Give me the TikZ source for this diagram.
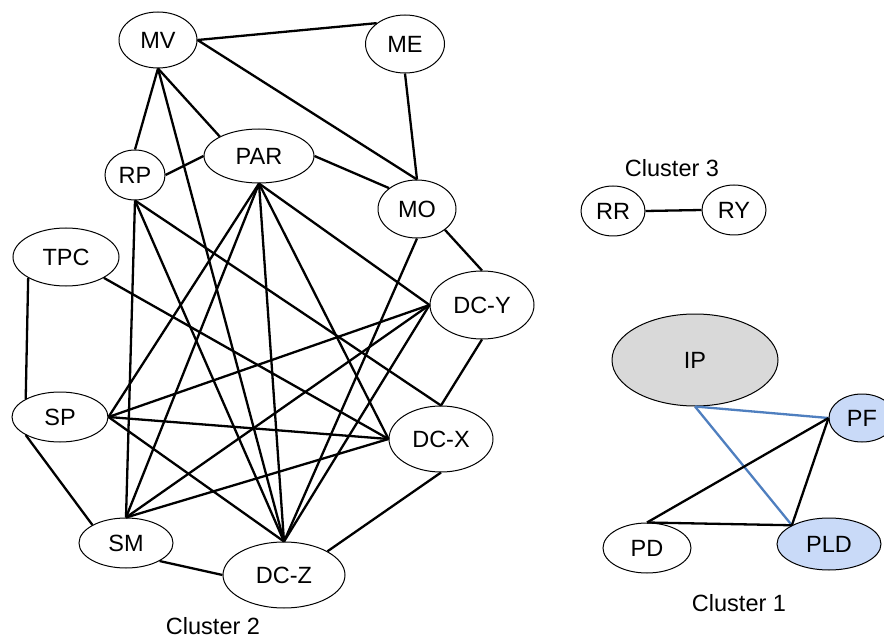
\documentclass[tikz,border=0pt]{standalone}
\usepackage{fontspec}
\setmainfont{Liberation Sans}
\usetikzlibrary{shapes.geometric}

\definecolor{nodefillblue}{HTML}{C9DAF8}
\definecolor{nodefillgray}{HTML}{D9D9D9}
\definecolor{linkblue}{HTML}{4F7FBF}

\tikzset{
  topic/.style 2 args={ellipse, draw=black, line width=1pt, fill=white,
    inner sep=0pt, minimum width=#1, minimum height=#2,
    font=\fontsize{23.5}{27}\selectfont},
  clusterlabel/.style={font=\fontsize{23.5}{27}\selectfont, inner sep=0pt},
  link/.style={line width=2.3pt, black},
  bluelink/.style={line width=2.3pt, linkblue},
}

\begin{document}
\begin{tikzpicture}[x=1pt, y=-1pt]
\useasboundingbox (0,0) rectangle (884,639);
\fill[white] (0,0) rectangle (884,639);

% Cluster 2
\node[topic={78pt}{56pt}]  (MV)  at (158,40)  {MV};
\node[topic={79pt}{58pt}]  (ME)  at (405,44)  {ME};
\node[topic={60pt}{50pt}]  (RP)  at (135,175) {RP};
\node[topic={110pt}{54pt}] (PAR) at (259,156) {PAR};
\node[topic={78pt}{58pt}]  (MO)  at (417,209) {MO};
\node[topic={106pt}{58pt}] (TPC) at (66,257)  {TPC};
\node[topic={96pt}{50pt}]  (SP)  at (60,417)  {SP};
\node[topic={94pt}{50pt}]  (SM)  at (126,543) {SM};
\node[topic={122pt}{66pt}] (DCZ) at (284,575) {DC-Z};
\node[topic={104pt}{68pt}] (DCY) at (482,305) {DC-Y};
\node[topic={104pt}{66pt}] (DCX) at (441,439) {DC-X};
\node[clusterlabel] (C2) at (213,626) {Cluster 2};

% Cluster 3
\node[topic={64pt}{50pt}] (RR) at (613,211) {RR};
\node[topic={64pt}{50pt}] (RY) at (734,210) {RY};
\node[clusterlabel] (C3) at (672,168) {Cluster 3};

% Cluster 1
\node[topic={166pt}{92pt}, fill=nodefillgray] (IP)  at (695,360) {IP};
\node[topic={66pt}{48pt},  fill=nodefillblue] (PF)  at (862,418) {PF};
\node[topic={104pt}{52pt}, fill=nodefillblue] (PLD) at (829,544) {PLD};
\node[topic={88pt}{50pt}] (PD) at (647,548) {PD};
\node[clusterlabel] (C1) at (739,603) {Cluster 1};

% Links of cluster 2
\draw[link] (MV.east) -- (ME.north west);
\draw[link] (MV.east) -- (MO.north);
\draw[link] (ME.south) -- (MO.north);
\draw[link] (MV.south) -- (RP.north);
\draw[link] (MV.south) -- (PAR.north west);
\draw[link] (MV.south) -- (DCZ.north);
\draw[link] (RP.east) -- (PAR.west);
\draw[link] (PAR.east) -- (MO.north west);
\draw[link] (MO.south east) -- (DCY.north);
\draw[link] (MO.south) -- (DCZ.north);
\draw[link] (DCY.south) -- (DCX.north);
\draw[link] (DCX.south) -- (DCZ.north east);
\draw[link] (SM.south east) -- (DCZ.west);
\draw[link] (SP.south west) -- (SM.north west);
\draw[link] (TPC.south west) -- (SP.north west);
\draw[link] (TPC.south east) -- (DCX.west);
\draw[link] (RP.south) -- (SM.north);
\draw[link] (RP.south) -- (DCZ.north);
\draw[link] (RP.south) -- (DCX.north);
\draw[link] (PAR.south) -- (SP.east);
\draw[link] (PAR.south) -- (SM.north);
\draw[link] (PAR.south) -- (DCZ.north);
\draw[link] (PAR.south) -- (DCX.west);
\draw[link] (PAR.south) -- (DCY.west);
\draw[link] (SP.east) -- (DCY.west);
\draw[link] (SP.east) -- (DCX.west);
\draw[link] (SP.east) -- (DCZ.north);
\draw[link] (SM.north) -- (DCY.west);
\draw[link] (SM.north) -- (DCX.west);
\draw[link] (DCY.west) -- (DCZ.north);

% Link of cluster 3
\draw[link] (RR.east) -- (RY.west);

% Links of cluster 1
\draw[bluelink] (IP.south) -- (PF.west);
\draw[bluelink] (IP.south) -- (PLD.north west);
\draw[link] (PF.west) -- (PD.north);
\draw[link] (PF.west) -- (PLD.north west);
\draw[link] (PD.north) -- (PLD.north west);
\end{tikzpicture}
\end{document}
